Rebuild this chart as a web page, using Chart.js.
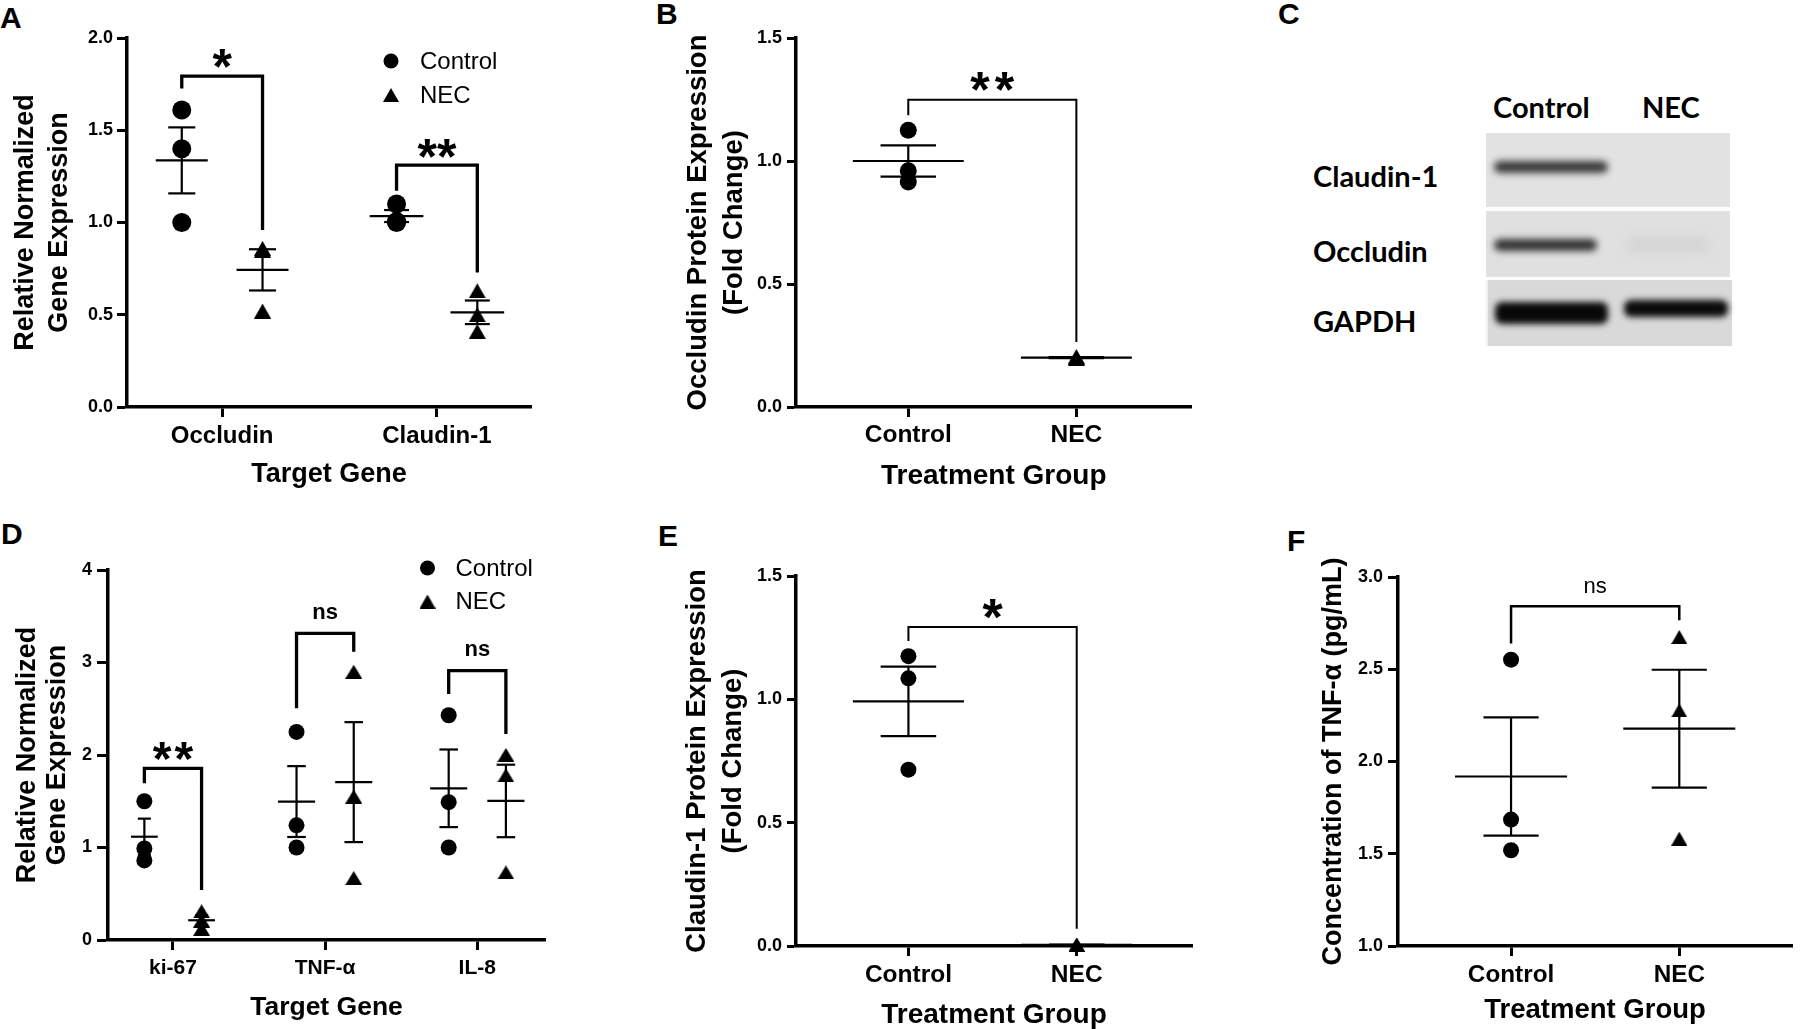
<!DOCTYPE html>
<html lang="en">
<head>
<meta charset="UTF-8">
<title>Tight junction and inflammatory markers · NEC</title>
<script src="https://cdn.jsdelivr.net/npm/chart.js"></script>
<style>
  body { margin: 0; background: #fff; width: 1800px; height: 1029px; position: relative; overflow: hidden; font-family: 'Liberation Sans', Arial, sans-serif; color: #000; }
  .panel { position: absolute; }
  .letter { position: absolute; font-weight: bold; font-size: 30px; line-height: 1; }
  .blot-txt { position: absolute; font-family: Lato, 'Open Sans', sans-serif; font-weight: 700; font-size: 29px; line-height: 1; white-space: nowrap; }
  .box { position: absolute; left: 1486px; width: 244px; }
  .band { position: absolute; border-radius: 7px; }
</style>
</head>
<body>
  <div class="letter" style="left:0;top:3px">A</div>
  <div class="letter" style="left:656px;top:-1px">B</div>
  <div class="letter" style="left:1278px;top:-1px">C</div>
  <div class="letter" style="left:1px;top:519px">D</div>
  <div class="letter" style="left:658px;top:521px">E</div>
  <div class="letter" style="left:1287px;top:526px">F</div>

  <canvas class="panel" id="chartA" width="560" height="500" style="left:0;top:0"></canvas>
  <canvas class="panel" id="chartB" width="560" height="500" style="left:640px;top:0"></canvas>
  <canvas class="panel" id="chartD" width="560" height="509" style="left:0;top:520px"></canvas>
  <canvas class="panel" id="chartE" width="560" height="512" style="left:640px;top:520px"></canvas>
  <canvas class="panel" id="chartF" width="540" height="509" style="left:1260px;top:520px"></canvas>

  <!-- C: western blot -->
  <div class="blot-txt" style="left:1493px;top:92px">Control</div>
  <div class="blot-txt" style="left:1642px;top:92px">NEC</div>
  <div class="blot-txt" style="left:1313px;top:161px">Claudin-1</div>
  <div class="blot-txt" style="left:1313px;top:236px">Occludin</div>
  <div class="blot-txt" style="left:1313px;top:306px">GAPDH</div>
  <div class="box" style="top:133px;height:74px;background:#e2e2e2"></div>
  <div class="box" style="top:211px;height:66px;background:#e0e0e0"></div>
  <div class="box" style="top:280px;height:66px;background:#d9d9d9;border-left:2px solid #f0f0f0"></div>
  <div class="band" style="left:1494px;width:114px;top:161px;height:12px;background:#3a3a3a;filter:blur(3.5px)"></div>
  <div class="band" style="left:1494px;width:103px;top:239px;height:12px;background:#323232;filter:blur(3.5px)"></div>
  <div class="band" style="left:1625px;width:85px;top:238px;height:14px;background:#d3d3d3;filter:blur(6px)"></div>
  <div class="band" style="left:1495px;width:113px;top:302px;height:22px;background:#080808;filter:blur(3px)"></div>
  <div class="band" style="left:1624px;width:104px;top:300px;height:17px;background:#0a0a0a;filter:blur(3px)"></div>

<script>
const groups = ['Control', 'NEC'];

// A: qPCR, tight junction genes (n = 3 per group)
const genesA = ['Occludin', 'Claudin-1'];
const ctrlA = [[1.61, 1.40, 1.00], [1.10, 1.00, 1.005]];
const necA = [[0.86, 0.85, 0.52], [0.63, 0.50, 0.41]];
const yTicksA = [0, 0.5, 1.0, 1.5, 2.0];
const sigA = ['*', '**'];
const sigYA = [1.906, 1.419];
const bracketA = [[1.793, 1.726, 0.96], [1.311, 1.172, 0.729]];   // top, left end, right end

// B: occludin protein (densitometry)
const occludinWB = [[1.125, 0.96, 0.915], [0.205, 0.200, 0.197]];
const yTicksB = [0, 0.5, 1.0, 1.5];
const sigB = ['**'];
const sigYB = [1.335];
const bracketB = [[1.249, 1.186, 0.264]];

// D: qPCR, proliferation / inflammation genes
const genesD = ['ki-67', 'TNF-α', 'IL-8'];
const ctrlD = [[1.50, 0.99, 0.86], [2.25, 1.24, 1.00], [2.43, 1.49, 1.00]];
const necD = [[0.31, 0.21, 0.12], [2.90, 1.55, 0.67], [2.00, 1.78, 0.73]];
const yTicksD = [0, 1, 2, 3, 4];
const sigD = ['**', 'ns', 'ns'];
const sigYD = [2.08, 3.53, 3.128];
const bracketD = [[1.856, 1.694, 0.54], [3.315, 2.505, 3.117], [2.912, 2.66, 2.227]];

// E: claudin-1 protein (densitometry)
const claudinWB = [[1.175, 1.085, 0.715], [0.006, 0.004, 0.003]];
const yTicksE = [0, 0.5, 1.0, 1.5];
const sigE = ['*'];
const sigYE = [1.381];
const bracketE = [[1.293, 1.236, 0.07]];

// F: TNF-α ELISA
const tnfELISA = [[2.552, 1.685, 1.519], [2.675, 2.277, 1.582]];
const yTicksF = [1.0, 1.5, 2.0, 2.5, 3.0];
const sigF = ['ns'];
const sigYF = [2.946];
const bracketF = [[2.841, 2.639, 2.765]];

const FONT = "'Liberation Sans', Arial, sans-serif";
const DX = 0.188;   // control / NEC offset inside a gene group

function triangleImg(w, h) {
    const c = document.createElement('canvas');
    c.width = w; c.height = h;
    const g = c.getContext('2d');
    g.fillStyle = '#000';
    g.beginPath(); g.moveTo(w / 2, 0); g.lineTo(w, h); g.lineTo(0, h); g.closePath(); g.fill();
    return c;
}

function meanSem(v) {
    const n = v.length;
    const m = v.reduce((a, b) => a + b, 0) / n;
    const sd = Math.sqrt(v.reduce((a, b) => a + (b - m) ** 2, 0) / (n - 1));
    return [m, sd / Math.sqrt(n)];
}

function seg(points, width) {
    return { data: points.map(([x, y]) => ({ x, y })), showLine: true, pointRadius: 0,
             borderColor: '#000', borderWidth: width, clip: false };
}

// significance labels + legend, positioned through the chart scales
function annotate(o) {
    return {
        id: 'annotate',
        afterDatasetsDraw(chart) {
            const { ctx, scales: { x, y } } = chart;
            ctx.save();
            ctx.fillStyle = '#000';
            ctx.textAlign = 'left';
            ctx.textBaseline = 'alphabetic';
            o.labels.forEach(l => {
                const star = l.text.includes('*');
                ctx.font = `${l.weight} ${l.size}px ${FONT}`;
                const chars = star ? l.text.split('') : [l.text];
                const widths = chars.map(c => ctx.measureText(c).width);
                const total = widths.reduce((a, b) => a + b, 0) + l.gap * (chars.length - 1);
                let cx = x.getPixelForValue(l.x) - total / 2;
                const base = y.getPixelForValue(l.y) + (star ? 0.57 : 0.26) * l.size;
                chars.forEach((c, i) => { ctx.fillText(c, cx, base); cx += widths[i] + l.gap; });
            });
            if (o.legend) {
                const L = o.legend;
                ctx.beginPath(); ctx.arc(L.x, L.y[0], 7.5, 0, 2 * Math.PI); ctx.fill();
                const t = triangleImg(16, 14);
                ctx.drawImage(t, L.x - 8, L.y[1] - 7);
                ctx.font = `${L.size}px ${FONT}`;
                ctx.textBaseline = 'middle';
                groups.forEach((g, i) => ctx.fillText(g, L.tx, L.y[i] + 1));
            }
            ctx.restore();
        }
    };
}

function panel(id, o) {
    const tri = triangleImg(o.tri[0], o.tri[1]);
    const ds = [];
    o.series.forEach((s, k) => {
        s.vals.forEach((v, i) => {
            const [m, e] = meanSem(v);
            const xv = s.x[i], w = o.meanW[i], c = o.capW[i];
            ds.push(seg([[xv - w, m], [xv + w, m]], 2.2),
                    seg([[xv, m - e], [xv, m + e]], 2.2),
                    seg([[xv - c, m + e], [xv + c, m + e]], 2.2),
                    seg([[xv - c, m - e], [xv + c, m - e]], 2.2));
        });
        ds.push({
            data: s.vals.flatMap((v, i) => v.map(val => ({ x: s.x[i], y: val }))),
            pointStyle: k === 0 ? 'circle' : tri,
            pointRadius: o.r, backgroundColor: '#000', borderWidth: 0, clip: false
        });
    });
    o.brackets.forEach(([top, l, r], i) => {
        const [x1, x2] = o.bx[i];
        ds.push(seg([[x1, l], [x1, top], [x2, top], [x2, r]], o.blw));
    });

    new Chart(document.getElementById(id), {
        type: 'scatter',
        data: { datasets: ds },
        options: {
            responsive: false, animation: false, events: [], devicePixelRatio: 1,
            layout: { padding: o.pad },
            plugins: { legend: { display: false }, tooltip: { enabled: false } },
            scales: {
                x: {
                    type: 'linear', min: o.xRange[0], max: o.xRange[1],
                    afterBuildTicks: s => { s.ticks = o.cats.map((c, i) => ({ value: i })); },
                    afterFit: s => { s.height = o.xH; },
                    ticks: { callback: v => o.cats[v], color: '#000', padding: o.xPad,
                             font: { family: FONT, size: o.xFont, weight: 'bold' }, maxRotation: 0, autoSkip: false },
                    grid: { drawOnChartArea: false, drawTicks: true, tickLength: 10, tickWidth: 3, tickColor: '#000' },
                    border: { color: '#000', width: 3.5 },
                    title: { display: true, text: o.xTitle, color: '#000',
                             font: { family: FONT, size: o.xTitleFont, weight: 'bold' },
                             padding: { top: 0, bottom: o.xTitlePad } }
                },
                y: {
                    min: o.yTicks[0], max: o.yTicks[o.yTicks.length - 1],
                    afterBuildTicks: s => { s.ticks = o.yTicks.map(v => ({ value: v })); },
                    afterFit: s => { s.width = o.yW; },
                    ticks: { callback: v => v.toFixed(o.dec), color: '#000', padding: o.yPad,
                             font: { family: FONT, size: 18, weight: 'bold' }, autoSkip: false },
                    grid: { drawOnChartArea: false, drawTicks: true, tickLength: o.yTickLen, tickWidth: 3, tickColor: '#000' },
                    border: { color: '#000', width: 3.5 },
                    title: { display: true, text: o.yTitle, color: '#000',
                             font: { family: FONT, size: o.yTitleFont, weight: 'bold', lineHeight: o.yLh },
                             padding: { top: o.yTitlePad, bottom: 0 } }
                }
            }
        },
        plugins: [annotate(o)]
    });
}

const grouped = (ctrl, nec, cats) => [
    { vals: ctrl, x: cats.map((c, i) => i - DX) },
    { vals: nec, x: cats.map((c, i) => i + DX) }
];
const twoGroup = vals => [{ vals: [vals[0]], x: [0] }, { vals: [vals[1]], x: [1] }];
const sigLabels = (texts, ys, xs, size, weight, gap) =>
    texts.map((t, i) => ({ text: t, x: xs[i], y: ys[i], size: t === 'ns' ? size[1] : size[0], weight, gap }));

panel('chartA', {
    cats: genesA, series: grouped(ctrlA, necA, genesA), yTicks: yTicksA, dec: 1,
    pad: { top: 38, right: 29, bottom: 0, left: 0 }, yW: 127, xH: 93, xRange: [-0.443, 1.438],
    meanW: [0.121, 0.125], capW: [0.063, 0.058], r: 9.5, tri: [17, 15],
    xFont: 24, xPad: 5, xTitle: 'Target Gene', xTitleFont: 27, xTitlePad: 9,
    yPad: 4, yTickLen: 10, yTitle: ['Relative Normalized', 'Gene Expression'], yTitleFont: 27, yLh: 1.26, yTitlePad: 9,
    brackets: bracketA, bx: genesA.map((c, i) => [i - DX, i + DX]), blw: 3.3,
    labels: sigLabels(sigA, sigYA, [0, 1], [50, 21], 'bold', 0),
    legend: { x: 391, y: [61, 95], tx: 420, size: 24 }
});

panel('chartB', {
    cats: groups, series: twoGroup(occludinWB), yTicks: yTicksB, dec: 1,
    pad: { top: 38, right: 0, bottom: 0, left: 0 }, yW: 156, xH: 93, xRange: [-0.668, 1.685],
    meanW: [0.33], capW: [0.165], r: 8.5, tri: [17, 15],
    xFont: 24.5, xPad: 4, xTitle: 'Treatment Group', xTitleFont: 28, xTitlePad: 7,
    yPad: 5, yTickLen: 9, yTitle: ['Occludin Protein Expression', '(Fold Change)'], yTitleFont: 27.5, yLh: 1.29, yTitlePad: 41,
    brackets: bracketB, bx: [[0, 1]], blw: 2,
    labels: sigLabels(sigB, sigYB, [0.5], [50, 21], 'bold', 5)
});

panel('chartD', {
    cats: genesD, series: grouped(ctrlD, necD, genesD), yTicks: yTicksD, dec: 0,
    pad: { top: 50, right: 15, bottom: 0, left: 0 }, yW: 108, xH: 89, xRange: [-0.427, 2.445],
    meanW: [0.088, 0.122, 0.122], capW: [0.043, 0.061, 0.061], r: 8, tri: [17, 14],
    xFont: 21, xPad: 6, xTitle: 'Target Gene', xTitleFont: 26.5, xTitlePad: 5,
    yPad: 5, yTickLen: 11, yTitle: ['Relative Normalized', 'Gene Expression'], yTitleFont: 27, yLh: 1.1, yTitlePad: 13,
    brackets: bracketD, bx: genesD.map((c, i) => [i - DX, i + DX]), blw: 3.3,
    labels: sigLabels(sigD, sigYD, [0, 1, 2], [48, 22], 'bold', 3),
    legend: { x: 427.5, y: [48, 81.5], tx: 455.5, size: 24 }
});

panel('chartE', {
    cats: groups, series: twoGroup(claudinWB), yTicks: yTicksE, dec: 1,
    pad: { top: 56, right: 0, bottom: 0, left: 0 }, yW: 156, xH: 86, xRange: [-0.668, 1.685],
    meanW: [0.33], capW: [0.165], r: 8, tri: [16, 14],
    xFont: 24.5, xPad: 5, xTitle: 'Treatment Group', xTitleFont: 28, xTitlePad: 0,
    yPad: 5, yTickLen: 9, yTitle: ['Claudin-1 Protein Expression', '(Fold Change)'], yTitleFont: 27.5, yLh: 1.29, yTitlePad: 40,
    brackets: bracketE, bx: [[0, 1]], blw: 2,
    labels: sigLabels(sigE, sigYE, [0.5], [52, 21], 'bold', 0)
});

panel('chartF', {
    cats: groups, series: twoGroup(tnfELISA), yTicks: yTicksF, dec: 1,
    pad: { top: 57, right: 0, bottom: 0, left: 0 }, yW: 138, xH: 83, xRange: [-0.672, 1.67],
    meanW: [0.333], capW: [0.164], r: 8, tri: [16, 14],
    xFont: 24.3, xPad: 5, xTitle: 'Treatment Group', xTitleFont: 27.5, xTitlePad: 2,
    yPad: 5, yTickLen: 10, yTitle: 'Concentration of TNF-α (pg/mL)', yTitleFont: 27, yLh: 1.2, yTitlePad: 57,
    brackets: bracketF, bx: [[0, 1]], blw: 2.5,
    labels: sigLabels(sigF, sigYF, [0.5], [44, 22], 'normal', 0)
});
</script>
</body>
</html>
